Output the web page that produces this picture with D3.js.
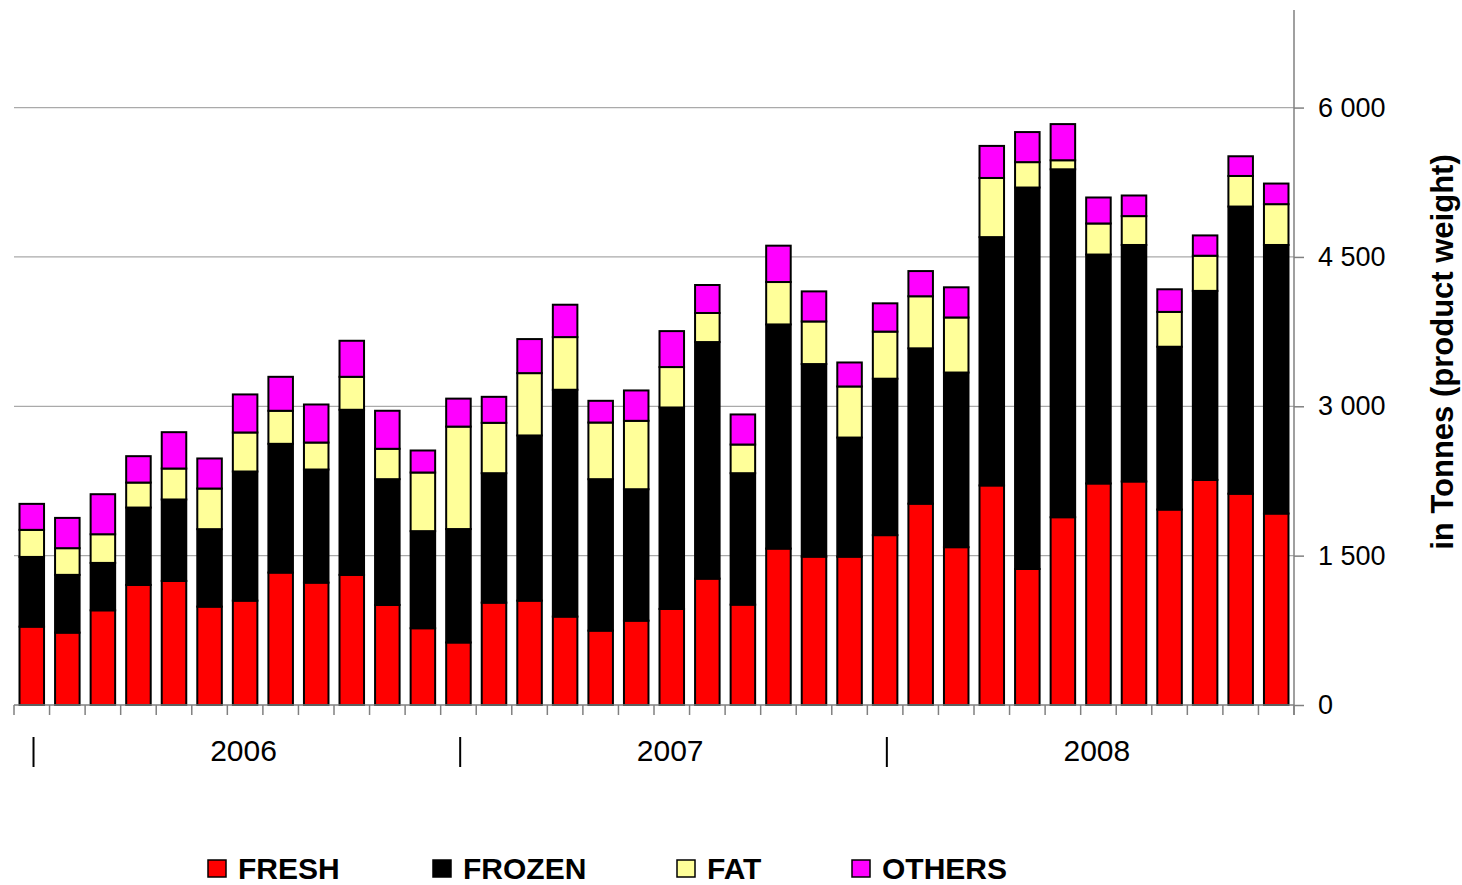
<!DOCTYPE html>
<html>
<head>
<meta charset="utf-8">
<script src="https://cdn.jsdelivr.net/npm/d3@7"></script>
<style>
  body { margin: 0; background: #fff; }
  text { font-family: Arial, "Liberation Sans", sans-serif; }
</style>
</head>
<body>
<svg width="1462" height="885"></svg>
<script>
var years = ["2006", "2007", "2008"];
var months = [];
years.forEach(function(y){
  for (var m = 1; m <= 12; m++) months.push(y + "-" + (m < 10 ? "0" + m : m));
});

var fresh  = [787, 727, 951, 1206, 1246, 988, 1048, 1330, 1229, 1307, 1005, 771,
              628, 1028, 1048, 888, 747, 847, 965, 1269, 1008, 1571, 1490, 1490,
              1706, 2022, 1585, 2205, 1366, 1886, 2225, 2245, 1963, 2261, 2122, 1923];
var frozen = [700, 580, 476, 777, 818, 778, 1297, 1293, 1136, 1658, 1263, 975,
              1139, 1300, 1659, 2278, 1521, 1320, 2023, 2376, 1320, 2251, 1934, 1196,
              1571, 1560, 1754, 2494, 3831, 3494, 2299, 2375, 1635, 1898, 2884, 2697];
var fat    = [272, 268, 288, 251, 311, 408, 392, 332, 271, 331, 305, 589,
              1029, 506, 626, 529, 569, 687, 406, 292, 288, 426, 428, 513,
              473, 523, 553, 594, 255, 91, 312, 290, 350, 353, 307, 410];
var others = [261, 304, 402, 265, 365, 302, 382, 341, 382, 362, 382, 221,
              281, 261, 342, 325, 218, 305, 361, 281, 302, 365, 302, 241,
              284, 253, 303, 322, 302, 363, 261, 207, 227, 204, 198, 207];
var yTicks = [0, 1500, 3000, 4500, 6000];
var seriesNames = ["FRESH", "FROZEN", "FAT", "OTHERS"];
var colors = ["#ff0000", "#000000", "#ffff99", "#ff00ff"];

var table = months.map(function(m, i){
  return {month: m, FRESH: fresh[i], FROZEN: frozen[i], FAT: fat[i], OTHERS: others[i]};
});

var plotLeft = 14, plotRight = 1294, plotTop = 8, plotBottom = 705;
var svg = d3.select("svg");

var x = d3.scaleBand().domain(months).range([plotLeft, plotRight])
  .paddingInner(0.31).paddingOuter(0.155);
var y = d3.scaleLinear().domain([0, 7000]).range([plotBottom, plotTop]);
var color = d3.scaleOrdinal().domain(seriesNames).range(colors);

// gridlines
svg.append("g").selectAll("line")
  .data(yTicks.filter(function(d){ return d > 0; }))
  .enter().append("line")
  .attr("x1", plotLeft).attr("x2", plotRight)
  .attr("y1", function(d){ return y(d); })
  .attr("y2", function(d){ return y(d); })
  .attr("stroke", "#aaaaaa").attr("stroke-width", 1.3);

// bars
var stacked = d3.stack().keys(seriesNames)(table);
svg.append("g").selectAll("g")
  .data(stacked)
  .enter().append("g")
  .attr("fill", function(d){ return color(d.key); })
  .selectAll("rect")
  .data(function(d){ return d; })
  .enter().append("rect")
  .attr("x", function(d){ return x(d.data.month); })
  .attr("y", function(d){ return y(d[1]); })
  .attr("width", x.bandwidth())
  .attr("height", function(d){ return y(d[0]) - y(d[1]); })
  .attr("stroke", "#000")
  .attr("stroke-width", 2);

// bottom axis, ticks at category boundaries
var gap = (x.step() - x.bandwidth()) / 2;
var bounds = months.map(function(m){ return x(m) - gap; }).concat([plotRight]);
svg.append("line")
  .attr("x1", plotLeft).attr("x2", plotRight).attr("y1", plotBottom).attr("y2", plotBottom)
  .attr("stroke", "#808080").attr("stroke-width", 1.5);
svg.append("g").selectAll("line")
  .data(bounds)
  .enter().append("line")
  .attr("x1", function(d){ return d; }).attr("x2", function(d){ return d; })
  .attr("y1", plotBottom).attr("y2", plotBottom + 10)
  .attr("stroke", "#808080").attr("stroke-width", 1.5);

// year separators and labels
svg.append("g").selectAll("line")
  .data(years)
  .enter().append("line")
  .attr("x1", function(d){ return x(d + "-01") + 14; })
  .attr("x2", function(d){ return x(d + "-01") + 14; })
  .attr("y1", 737).attr("y2", 767)
  .attr("stroke", "#000").attr("stroke-width", 2);
svg.append("g").selectAll("text")
  .data(years)
  .enter().append("text")
  .attr("x", function(d){ return x(d + "-01") + 14 + 210; })
  .attr("y", 761)
  .attr("text-anchor", "middle")
  .style("font-size", "30px")
  .text(function(d){ return d; });

// right axis
var yAxis = d3.axisRight(y).tickValues(yTicks).tickSize(10).tickPadding(14)
  .tickFormat(function(d){ return d3.format(",")(d).replace(/,/g, " "); });
var ga = svg.append("g").attr("transform", "translate(" + plotRight + ",0)").call(yAxis);
ga.select(".domain").attr("d", "M0," + (plotTop + 2) + "V" + (plotBottom + 10))
  .attr("stroke", "#808080").attr("stroke-width", 1.5);
ga.selectAll(".tick line").attr("stroke", "#808080").attr("stroke-width", 1.5);
ga.selectAll(".tick text")
  .attr("fill", "#000")
  .style("font-size", "27px")
  .style("font-family", "Arial, 'Liberation Sans', sans-serif");

// axis title
svg.append("text")
  .attr("transform", "translate(1453,352) rotate(-90)")
  .attr("text-anchor", "middle")
  .style("font-size", "31px")
  .style("font-weight", "bold")
  .text("in Tonnes (product weight)");

// legend
var legendX = [208, 433, 677, 852];
var lg = svg.append("g").selectAll("g")
  .data(seriesNames)
  .enter().append("g")
  .attr("transform", function(d, i){ return "translate(" + legendX[i] + ",860)"; });
lg.append("rect")
  .attr("width", 18).attr("height", 17)
  .attr("fill", function(d){ return color(d); })
  .attr("stroke", "#000").attr("stroke-width", 1.5);
lg.append("text")
  .attr("x", 30).attr("y", 19)
  .style("font-size", "30px")
  .style("font-weight", "bold")
  .text(function(d){ return d; });
</script>
</body>
</html>
